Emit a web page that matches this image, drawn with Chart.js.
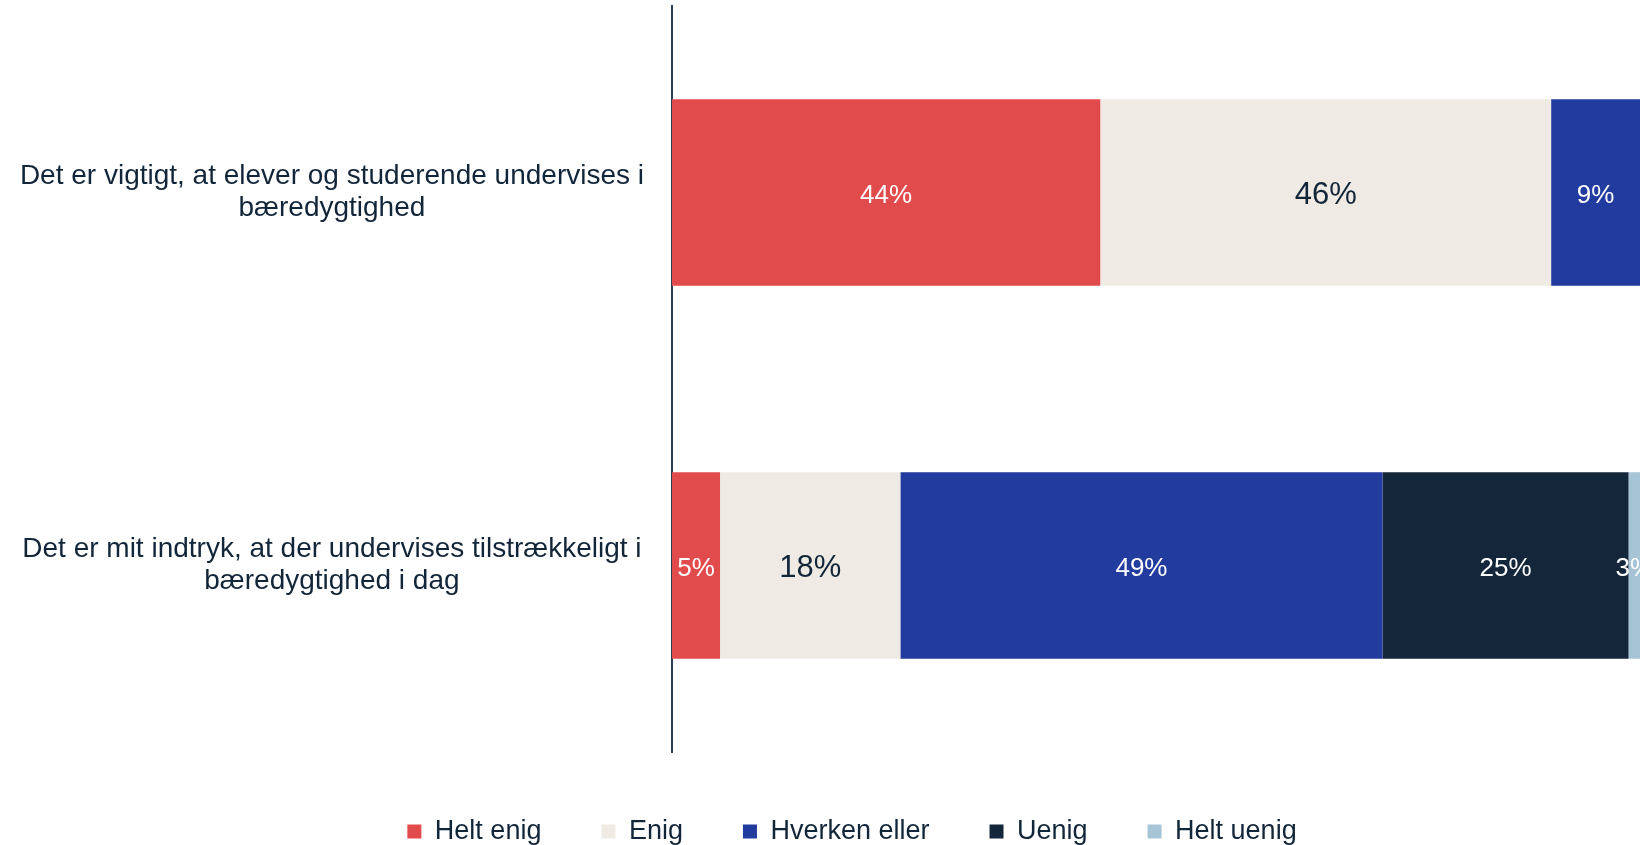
<!DOCTYPE html>
<html lang="da">
<head>
    <meta charset="UTF-8">
    <title>Bæredygtighed i undervisningen</title>
    <script src="https://cdn.jsdelivr.net/npm/chart.js"></script>
    <style>
        html, body {
            margin: 0;
            padding: 0;
            background: #ffffff;
            overflow: hidden;
        }

        .frame {
            width: 1640px;
            height: 845px;
            overflow: hidden;
        }

        .container {
            position: relative;
            width: 1704px;
            height: 855px;
        }
    </style>
</head>
<body>
    <div class="frame">
        <div class="container">
            <canvas id="chart"></canvas>
        </div>
    </div>

    <script>
        const categories = [
            ["Det er vigtigt, at elever og studerende undervises i", "bæredygtighed"],
            ["Det er mit indtryk, at der undervises tilstrækkeligt i", "bæredygtighed i dag"],
        ];
        const seriesNames = ["Helt enig", "Enig", "Hverken eller", "Uenig", "Helt uenig"];
        const heltEnig = [43.7, 4.9];
        const enig = [46.0, 18.4];
        const hverkenEller = [9.3, 49.2];
        const uenig = [1.0, 25.1];
        const heltUenig = [0.0, 3.0];

        const colors = ["#e24b4b", "#efeae3", "#223b9e", "#13263a", "#a7c4d7"];
        const textDark = "#12263a";
        const fontFamily = '"Liberation Sans", Arial, sans-serif';

        const values = [heltEnig, enig, hverkenEller, uenig, heltUenig];

        // the page only shows the first 1640px, the plot runs on past the edge
        const visibleWidth = 1640;

        // labels in the middle of each segment (only the part that can be seen)
        const barLabels = {
            id: "barLabels",
            afterDatasetsDraw(chart) {
                const { ctx } = chart;
                ctx.save();
                ctx.textAlign = "center";
                ctx.textBaseline = "middle";
                chart.data.datasets.forEach((ds, i) => {
                    const meta = chart.getDatasetMeta(i);
                    meta.data.forEach((bar, j) => {
                        const v = ds.data[j];
                        const right = Math.min(bar.x, visibleWidth);
                        if (!v || right - bar.base <= 0) return;
                        const dark = i === 1;
                        ctx.fillStyle = dark ? textDark : "#ffffff";
                        ctx.font = (dark ? 31 : 26) + "px " + fontFamily;
                        ctx.fillText(Math.round(v) + "%", (bar.base + right) / 2, bar.y + 3);
                    });
                });
                ctx.restore();
            },
        };

        const config = {
            type: "bar",
            data: {
                labels: categories,
                datasets: seriesNames.map((name, i) => ({
                    label: name,
                    data: values[i],
                    backgroundColor: colors[i],
                    borderWidth: 0,
                    barPercentage: 0.5,
                    categoryPercentage: 1,
                })),
            },
            options: {
                indexAxis: "y",
                responsive: true,
                maintainAspectRatio: false,
                animation: false,
                layout: {
                    padding: { top: 6, right: 0, bottom: 0, left: 0 },
                },
                plugins: {
                    tooltip: { enabled: false },
                    legend: {
                        position: "bottom",
                        labels: {
                            color: textDark,
                            boxWidth: 14,
                            boxHeight: 14,
                            padding: 60,
                            font: { family: fontFamily, size: 27 },
                        },
                    },
                },
                scales: {
                    x: {
                        stacked: true,
                        min: 0,
                        max: 105.3,
                        grid: { display: false, drawTicks: false },
                        border: { display: false },
                        ticks: { display: false },
                        afterFit: (s) => { s.height = 6; },
                    },
                    y: {
                        stacked: true,
                        grid: { display: false, drawTicks: false },
                        border: { display: true, color: "#2b3e55", width: 2 },
                        ticks: {
                            color: textDark,
                            crossAlign: "center",
                            padding: 28,
                            font: { family: fontFamily, size: 28, lineHeight: 1.15 },
                        },
                        afterFit: (s) => {
                            s.width = 672;
                            // labels sit in the middle of the bands, no room needed above/below
                            s.paddingTop = 0;
                            s.paddingBottom = 0;
                        },
                    },
                },
            },
            plugins: [barLabels],
        };

        new Chart(document.getElementById("chart"), config);
    </script>
</body>
</html>
